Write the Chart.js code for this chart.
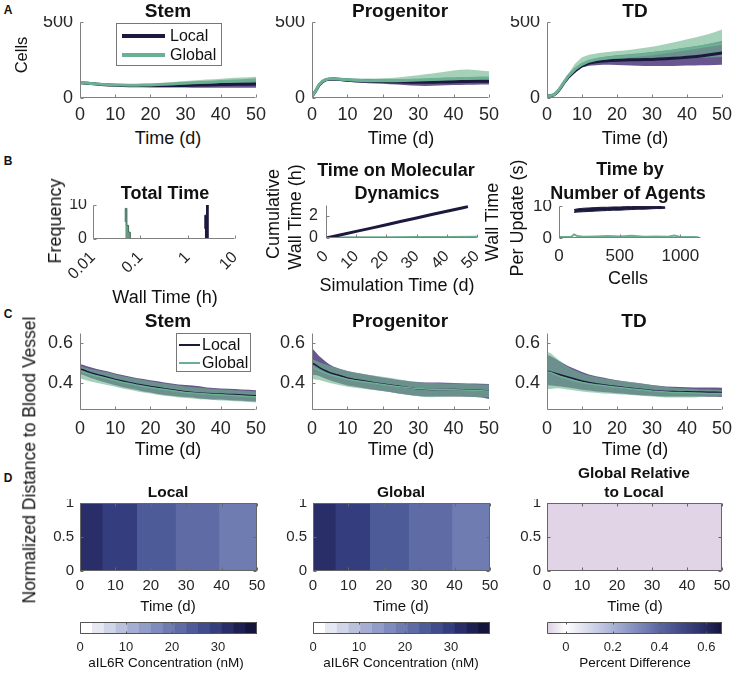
<!DOCTYPE html>
<html>
<head>
<meta charset="utf-8">
<script src="https://cdn.jsdelivr.net/npm/chart.js@4.4.0/dist/chart.umd.min.js"></script>
<style>
body { margin: 0; background: #fff; width: 733px; height: 673px; position: relative; overflow: hidden;
       font-family: "Liberation Sans", Arial, sans-serif; color: #111; }
canvas { position: absolute; }
.t { position: absolute; white-space: nowrap; line-height: 1; transform: translate(-50%, -50%); }
.box { position: absolute; border: 1px solid #777; background: #fff; }
.ln { position: absolute; }
</style>
</head>
<body>
<script>
// ---- data ----
const tA = [0,1,2,3,4,5,6,8,10,12,14,16,18,20,22,24,26,28,30,32,34,36,38,40,42,44,46,48,50];
const timeTicks = [0,10,20,30,40,50];

// A: cell counts
const stemLocalMean = [100,99,97,95,93,91,89,86,84,82,81,80,80,80,80,81,81,82,83,84,85,86,87,88,89,90,91,91,92];
const stemLocalLo   = [97,96,94,92,89,87,85,81,78,76,74,73,72,71,71,70,70,69,69,68,68,68,68,68,68,68,68,68,68];
const stemLocalHi   = [103,102,100,98,97,95,93,91,90,88,88,87,88,88,90,91,92,94,96,98,100,102,104,106,108,110,112,113,114];
const stemGlobalMean = [102,100,98,96,94,92,90,88,86,85,84,84,85,86,88,90,92,95,97,100,102,104,106,108,110,112,114,116,118];
const stemGlobalLo   = [98,96,94,92,90,88,86,83,80,78,77,77,77,77,78,79,80,81,82,83,84,85,86,87,87,88,88,89,90];
const stemGlobalHi   = [106,104,102,100,98,96,94,93,92,92,92,92,93,95,98,101,104,108,112,115,118,121,124,127,130,133,135,137,140];

const progLocalMean = [10,45,85,108,120,124,125,121,117,114,112,110,109,108,107,106,105,104,103,103,104,105,106,107,108,109,110,110,111];
const progLocalLo   = [10,40,77,100,112,116,116,112,107,103,100,97,95,93,91,89,86,83,80,79,81,83,84,85,86,87,87,88,88];
const progLocalHi   = [10,50,93,116,128,132,134,131,128,126,125,124,124,124,124,124,124,124,124,125,126,127,128,129,130,131,132,133,134];
const progGlobalMean = [10,47,88,111,122,126,127,124,120,117,115,114,113,113,113,114,115,116,118,120,122,124,126,127,128,129,130,131,132];
const progGlobalLo   = [10,42,80,103,114,118,118,115,111,107,105,103,101,100,99,99,99,99,100,101,102,103,104,105,106,107,108,108,108];
const progGlobalHi   = [10,52,96,119,130,134,136,134,131,129,128,128,129,130,132,135,139,144,150,156,162,168,175,181,186,188,185,180,176];

const tdLocalMean = [15,15,20,40,70,105,135,180,212,230,239,244,247,249,250,251,252,253,254,256,258,261,264,268,272,277,283,290,296];
const tdLocalLo   = [12,12,16,34,62,95,124,165,200,212,216,218,218,217,215,213,212,211,210,210,210,211,212,213,214,215,216,217,218];
const tdLocalHi   = [18,18,24,46,78,115,146,195,228,248,261,270,276,281,285,289,293,297,302,307,312,318,324,331,338,346,355,365,375];
const tdGlobalMean = [15,16,22,43,75,110,142,190,222,242,253,260,265,269,272,276,281,286,291,297,303,310,317,324,331,338,345,352,358];
const tdGlobalLo   = [12,13,18,37,66,100,131,175,205,222,232,238,241,243,244,245,246,248,250,252,254,256,258,260,262,264,266,268,270];
const tdGlobalHi   = [18,19,26,49,84,122,158,225,268,285,293,299,304,309,313,318,324,330,337,345,355,365,375,386,397,408,420,435,450];

// B: timing
const totalEdgesGlobal = [0.048,0.052,0.0565,0.0615,0.067];
const totalCountsGlobal = [5,9,4,2];
const totalEdgesLocal = [2.3,2.5,2.72,2.95];
const totalCountsLocal = [3,7,10];
const totalTicks = [0.01,0.1,1,10];

const mdTimeLocal = [0,5,10,15,20,25,30,35,40,45,47];
const mdWallLocal = [0,0.3,0.6,0.9,1.21,1.52,1.82,2.13,2.43,2.73,2.85];
const mdTimeGlobal = [0,10,20,30,40,50];
const mdWallGlobal = [0.01,0.02,0.03,0.04,0.05,0.06];

const agentCellsLocal = [125,150,200,250,300,350,400,450,500,550,600,650,700,750,800,850,875];
const agentWallLocalLo = [8.0,8.1,8.2,8.3,8.4,8.5,8.6,8.7,8.7,8.8,8.9,9.0,9.0,9.1,9.2,9.2,9.3];
const agentWallLocalHi = [8.9,9.1,9.3,9.4,9.5,9.6,9.6,9.7,9.7,9.8,9.8,9.9,9.9,9.9,9.9,9.8,9.7];
const agentCellsGlobal = [0,50,100,125,150,200,300,400,500,600,700,800,900,950,1000,1100,1150];
const agentWallGlobal = [0.3,0.3,0.4,1.1,0.6,0.4,0.5,0.6,0.5,0.7,0.4,0.5,0.4,0.8,0.3,0.3,0.2];
const agentTicks = [0,500,1000];

// C: normalized distance to blood vessel
const dStemLocalMean = [.470,.465,.458,.452,.447,.442,.437,.428,.418,.410,.402,.395,.389,.383,.377,.371,.366,.361,.356,.353,.350,.348,.346,.345,.343,.342,.340,.338,.336];
const dStemLocalLo   = [.445,.440,.432,.425,.420,.414,.409,.399,.389,.380,.372,.366,.358,.352,.345,.340,.336,.332,.330,.327,.322,.320,.318,.318,.315,.313,.311,.309,.307];
const dStemLocalHi   = [.495,.490,.484,.479,.474,.469,.465,.457,.447,.440,.432,.425,.420,.414,.409,.403,.398,.393,.390,.388,.384,.378,.375,.373,.371,.370,.368,.366,.364];
const dStemGlobalMean = [.462,.455,.448,.443,.438,.434,.430,.421,.412,.404,.397,.390,.384,.378,.372,.367,.362,.357,.353,.350,.347,.345,.343,.341,.339,.337,.335,.333,.331];
const dStemGlobalLo   = [.425,.418,.412,.408,.404,.400,.396,.389,.381,.373,.366,.359,.353,.347,.341,.336,.332,.328,.325,.322,.319,.317,.315,.313,.311,.309,.307,.305,.303];
const dStemGlobalHi   = [.485,.480,.475,.470,.466,.462,.459,.452,.443,.435,.428,.421,.415,.409,.403,.398,.392,.387,.383,.379,.376,.373,.370,.368,.366,.364,.362,.360,.358];

const dProgLocalMean = [.500,.490,.478,.468,.460,.452,.446,.436,.425,.418,.412,.406,.400,.395,.390,.385,.380,.375,.371,.369,.368,.368,.368,.367,.366,.365,.364,.362,.360];
const dProgLocalLo   = [.440,.440,.435,.427,.420,.414,.408,.398,.388,.382,.376,.370,.365,.360,.355,.349,.344,.339,.335,.333,.333,.333,.333,.333,.332,.331,.330,.328,.320];
const dProgLocalHi   = [.575,.555,.535,.520,.505,.492,.482,.470,.460,.452,.446,.440,.434,.428,.422,.416,.412,.408,.405,.403,.402,.402,.401,.400,.399,.398,.397,.396,.395];
const dProgGlobalMean = [.480,.472,.463,.455,.448,.442,.437,.428,.419,.413,.408,.403,.398,.393,.388,.383,.379,.375,.372,.370,.369,.368,.367,.366,.365,.364,.363,.361,.359];
const dProgGlobalLo   = [.420,.418,.415,.410,.405,.400,.396,.389,.381,.376,.372,.368,.364,.360,.355,.349,.344,.339,.334,.330,.329,.331,.332,.333,.332,.331,.330,.329,.328];
const dProgGlobalHi   = [.520,.512,.505,.498,.492,.486,.480,.470,.460,.453,.447,.441,.436,.431,.426,.420,.414,.408,.404,.401,.400,.399,.398,.397,.396,.395,.394,.393,.392];

const dTdLocalMean = [.460,.455,.450,.445,.440,.435,.430,.420,.410,.402,.396,.391,.386,.382,.378,.374,.370,.366,.363,.360,.358,.357,.356,.356,.355,.355,.354,.354,.353];
const dTdLocalLo   = [.390,.388,.386,.384,.382,.380,.378,.372,.366,.362,.358,.355,.352,.349,.346,.343,.340,.338,.336,.334,.333,.333,.332,.332,.332,.332,.331,.331,.330];
const dTdLocalHi   = [.540,.535,.525,.515,.505,.495,.485,.470,.455,.443,.434,.427,.420,.414,.409,.404,.400,.395,.390,.386,.383,.381,.380,.379,.378,.378,.377,.377,.376];
const dTdGlobalMean = [.455,.453,.445,.438,.430,.425,.420,.410,.402,.396,.391,.387,.383,.379,.375,.371,.368,.364,.360,.357,.355,.353,.352,.351,.350,.349,.348,.347,.347];
const dTdGlobalLo   = [.370,.370,.372,.374,.372,.370,.368,.363,.358,.354,.351,.348,.346,.344,.342,.340,.337,.335,.333,.330,.328,.328,.327,.327,.328,.330,.332,.333,.333];
const dTdGlobalHi   = [.555,.550,.535,.520,.505,.492,.480,.463,.448,.438,.430,.424,.418,.413,.409,.405,.400,.395,.390,.385,.380,.376,.374,.372,.370,.368,.367,.366,.365];

// D: aIL6R concentration per time window
const concEdges = [0,6.3,16.1,27,39.3,50];
const localConc  = [31.5,28.5,25.5,22.5,19];
const globalConc = [31.2,28.4,25.3,22.4,19.1];
const relEdges = [0,50];
const relDiff = [-0.07];
const concRange = [0,38.5];
const concTicks = [0,10,20,30];
const relRange = [-0.081,0.667];
const relTicks = [0,0.2,0.4,0.6];

// ---- styles ----
const LOCAL = '#1b1a3e', GLOBAL = '#6cb093';
const LOCAL_BAND = 'rgba(78,58,122,0.85)', GLOBAL_BAND = 'rgba(112,180,142,0.62)';
const concMap = ['#ffffff','#e6e8f2','#d0d5e8','#bac1dd','#a5aed2','#919cc7','#7f8bbd','#6f7cb2',
                 '#5e6ba5','#4e5b99','#414c8c','#343d7d','#292e69','#1e2052','#15143a'];
const relStops = [[-0.081,'#dccde3'],[0,'#ffffff'],[0.2,'#aab3d6'],[0.4,'#5a66a2'],[0.6,'#262a62'],[0.667,'#14133a']];

Chart.defaults.font.family = '"Liberation Sans", Arial, sans-serif';
Chart.defaults.color = '#262626';

const R = {
  aStem: {x:80, y:22, w:176, h:76}, aProg: {x:312, y:22, w:177, h:76}, aTD: {x:547, y:22, w:175, h:76},
  bTot: {x:93, y:205, w:142, h:34}, bMD: {x:326, y:205, w:151, h:33}, bAg: {x:559, y:206, w:142, h:32},
  cStem: {x:80, y:333, w:176, h:77}, cProg: {x:312, y:333, w:177, h:77}, cTD: {x:547, y:333, w:175, h:77},
  dLoc: {x:80, y:503, w:177, h:68}, dGlob: {x:313, y:503, w:177, h:68}, dRel: {x:547, y:503, w:175, h:68},
  cbLoc: {x:80, y:622, w:177, h:12}, cbGlob: {x:313, y:622, w:177, h:12}, cbRel: {x:547, y:622, w:175, h:12}
};

// MATLAB-like axes: inward ticks, axis lines, optional box
Chart.register({
  id: 'matAxes',
  afterDatasetsDraw(chart, args, o) {
    const ctx = chart.ctx, a = chart.chartArea, L = o.len || 3;
    const sx = chart.scales.x, sy = chart.scales.y;
    const l = Math.round(a.left) + 0.5, b = Math.round(a.bottom) - 0.5;
    const r = Math.round(a.right) - 0.5, t = Math.round(a.top) + 0.5;
    ctx.save();
    ctx.strokeStyle = o.color || '#808080';
    ctx.lineWidth = 1;
    ctx.beginPath();
    sx.ticks.forEach(k => {
      const p = Math.round(sx.getPixelForValue(k.value)) + 0.5;
      ctx.moveTo(p, b); ctx.lineTo(p, b - L);
      if (o.box) { ctx.moveTo(p, t); ctx.lineTo(p, t + L); }
    });
    if (sy.options.display !== false) sy.ticks.forEach(k => {
      const p = Math.round(sy.getPixelForValue(k.value)) + 0.5;
      ctx.moveTo(l, p); ctx.lineTo(l + L, p);
      if (o.box) { ctx.moveTo(r, p); ctx.lineTo(r - L, p); }
    });
    ctx.moveTo(l, t); ctx.lineTo(l, b); ctx.lineTo(r, b);
    if (o.box) { ctx.lineTo(r, t); ctx.lineTo(l, t); }
    ctx.stroke();
    ctx.restore();
  }
});

function pts(xs, ys) { return xs.map((x, i) => ({x: x, y: ys[i]})); }
function fixTicks(vals) { return s => { s.ticks = vals.map(v => ({value: v})); }; }

function panel(rect, m, xs, ys, datasets, axes) {
  const c = document.createElement('canvas');
  const W = Math.round(rect.w + m.l + m.r), H = Math.round(rect.h + m.t + m.b);
  c.width = W; c.height = H;
  c.style.left = (rect.x - m.l) + 'px';
  c.style.top = (rect.y - m.t) + 'px';
  document.body.appendChild(c);
  xs.grid = {display: false, drawTicks: false}; xs.border = {display: false};
  ys.grid = {display: false, drawTicks: false}; ys.border = {display: false};
  xs.afterFit = s => { s.height = m.b; s.paddingLeft = 0; s.paddingRight = 0; };
  if (ys.display !== false) ys.afterFit = s => { s.width = m.l; s.paddingTop = 0; s.paddingBottom = 0; };
  return new Chart(c, {
    type: 'line',
    data: {datasets: datasets},
    options: {
      responsive: false, animation: false, devicePixelRatio: 1,
      layout: {padding: {left: ys.display === false ? m.l : 0, top: m.t, right: m.r, bottom: 0}},
      scales: {x: xs, y: ys},
      elements: {point: {radius: 0}, line: {tension: 0}},
      plugins: {legend: {display: false}, tooltip: {enabled: false}, matAxes: axes || {}}
    }
  });
}

function linAxis(min, max, ticks, size, pad, rot) {
  return {type: 'linear', min: min, max: max, afterBuildTicks: fixTicks(ticks),
    ticks: {font: {size: size}, padding: pad, maxRotation: rot || 0, minRotation: rot || 0, callback: v => String(v)}};
}

function bandPanel(rect, yMin, yMax, yTicks, s, lw, xPad) {
  return panel(rect, {l: 60, r: 24, t: 6, b: 30},
    linAxis(0, 50, timeTicks, 18, xPad),
    linAxis(yMin, yMax, yTicks, 18, 7),
    [
      {data: pts(tA, s[1]), borderWidth: 0, fill: false, order: 4},
      {data: pts(tA, s[2]), borderWidth: 0, fill: '-1', backgroundColor: LOCAL_BAND, order: 4},
      {data: pts(tA, s[4]), borderWidth: 0, fill: false, order: 3},
      {data: pts(tA, s[5]), borderWidth: 0, fill: '-1', backgroundColor: GLOBAL_BAND, order: 3},
      {data: pts(tA, s[0]), borderColor: LOCAL, borderWidth: lw, fill: false, order: 2},
      {data: pts(tA, s[3]), borderColor: GLOBAL, borderWidth: lw, fill: false, order: 1}
    ]);
}

function hexRgb(h) { return [1, 3, 5].map(i => parseInt(h.substr(i, 2), 16)); }
function relColor(v) {
  for (let i = 0; i < relStops.length - 1; i++) {
    const [a, ca] = relStops[i], [b, cb] = relStops[i + 1];
    if (v <= b || i === relStops.length - 2) {
      const f = Math.max(0, Math.min(1, (v - a) / (b - a)));
      const A = hexRgb(ca), B = hexRgb(cb);
      return 'rgb(' + A.map((x, j) => Math.round(x + (B[j] - x) * f)).join(',') + ')';
    }
  }
}
function concColor(v) {
  const f = (v - concRange[0]) / (concRange[1] - concRange[0]);
  return concMap[Math.max(0, Math.min(concMap.length - 1, Math.floor(f * concMap.length)))];
}
// each block is filled from its start edge to the last edge; later blocks are drawn on top,
// so neighbouring cells meet without antialiasing seams
function blocks(edges, colors) {
  const end = edges[edges.length - 1];
  return colors.map((col, i) => ({
    data: [{x: edges[i], y: 1}, {x: end, y: 1}],
    borderWidth: 0, fill: 'origin', backgroundColor: col, order: colors.length - i
  }));
}

// ---- row A ----
bandPanel(R.aStem, 0, 500, [0, 500], [stemLocalMean, stemLocalLo, stemLocalHi, stemGlobalMean, stemGlobalLo, stemGlobalHi], 3, 6);
bandPanel(R.aProg, 0, 500, [0, 500], [progLocalMean, progLocalLo, progLocalHi, progGlobalMean, progGlobalLo, progGlobalHi], 3, 6);
bandPanel(R.aTD, 0, 500, [0, 500], [tdLocalMean, tdLocalLo, tdLocalHi, tdGlobalMean, tdGlobalLo, tdGlobalHi], 3, 6);

// ---- row B ----
panel(R.bTot, {l: 40, r: 20, t: 6, b: 44},
  {type: 'logarithmic', min: 0.01, max: 10, afterBuildTicks: fixTicks(totalTicks),
   ticks: {font: {size: 16}, padding: 9, minRotation: 45, maxRotation: 45, callback: v => String(v)}},
  linAxis(0, 10, [0, 5, 10], 16, 6),
  [
    {data: pts(totalEdgesGlobal, totalCountsGlobal.concat([0])), stepped: 'after', fill: 'origin',
     backgroundColor: 'rgba(92,150,122,0.95)', borderColor: '#3e6a57', borderWidth: 1},
    {data: pts(totalEdgesLocal, totalCountsLocal.concat([0])), stepped: 'after', fill: 'origin',
     backgroundColor: LOCAL, borderColor: LOCAL, borderWidth: 1}
  ]);

panel(R.bMD, {l: 24, r: 20, t: 6, b: 44},
  linAxis(0, 50, timeTicks, 16, 9, 45),
  linAxis(0, 3, [0, 2], 16, 8),
  [
    {data: pts(mdTimeLocal, mdWallLocal), borderColor: LOCAL, borderWidth: 3, fill: false},
    {data: pts(mdTimeGlobal, mdWallGlobal), borderColor: GLOBAL, borderWidth: 3, fill: false}
  ]);

panel(R.bAg, {l: 30, r: 24, t: 6, b: 30},
  linAxis(0, 1170, agentTicks, 17, 8),
  linAxis(0, 10, [0, 5, 10], 17, 7),
  [
    {data: pts(agentCellsLocal, agentWallLocalLo), borderColor: LOCAL, borderWidth: 1, fill: false},
    {data: pts(agentCellsLocal, agentWallLocalHi), borderColor: LOCAL, borderWidth: 1, fill: '-1', backgroundColor: LOCAL},
    {data: pts(agentCellsGlobal, agentWallGlobal), borderColor: GLOBAL, borderWidth: 2, fill: false}
  ]);

// ---- row C ----
bandPanel(R.cStem, 0.265, 0.65, [0.4, 0.6], [dStemLocalMean, dStemLocalLo, dStemLocalHi, dStemGlobalMean, dStemGlobalLo, dStemGlobalHi], 1.5, 8);
bandPanel(R.cProg, 0.265, 0.65, [0.4, 0.6], [dProgLocalMean, dProgLocalLo, dProgLocalHi, dProgGlobalMean, dProgGlobalLo, dProgGlobalHi], 1.5, 8);
bandPanel(R.cTD, 0.265, 0.65, [0.4, 0.6], [dTdLocalMean, dTdLocalLo, dTdLocalHi, dTdGlobalMean, dTdGlobalLo, dTdGlobalHi], 1.5, 8);

// ---- row D ----
const heatM = {l: 60, r: 24, t: 4, b: 26};
panel(R.dLoc, heatM, linAxis(0, 50, timeTicks, 15, 6), linAxis(0, 1, [0, 0.5, 1], 15, 6),
  blocks(concEdges, localConc.map(concColor)), {box: true, color: '#666'});
panel(R.dGlob, heatM, linAxis(0, 50, timeTicks, 15, 6), linAxis(0, 1, [0, 0.5, 1], 15, 6),
  blocks(concEdges, globalConc.map(concColor)), {box: true, color: '#666'});
panel(R.dRel, heatM, linAxis(0, 50, timeTicks, 15, 6), linAxis(0, 1, [0, 0.5, 1], 15, 6),
  blocks(relEdges, relDiff.map(relColor)), {box: true, color: '#666'});

// colorbars
const cbM = {l: 10, r: 14, t: 2, b: 22};
const concSteps = concMap.map((c, i) => concRange[0] + i * (concRange[1] - concRange[0]) / concMap.length).concat([concRange[1]]);
[R.cbLoc, R.cbGlob].forEach(r => {
  panel(r, cbM, linAxis(concRange[0], concRange[1], concTicks, 13, 6), {type: 'linear', min: 0, max: 1, display: false},
    blocks(concSteps, concMap), {box: true, color: '#555', len: 2});
});
panel(R.cbRel, cbM, linAxis(relRange[0], relRange[1], relTicks, 13, 6), {type: 'linear', min: 0, max: 1, display: false},
  [{data: [{x: relRange[0], y: 1}, {x: relRange[1], y: 1}], borderWidth: 0, fill: 'origin',
    backgroundColor: ctx => {
      const ch = ctx.chart, sx = ch.scales.x;
      if (!ch.chartArea || !sx) return '#ddd';
      const x0 = sx.getPixelForValue(relRange[0]), x1 = sx.getPixelForValue(relRange[1]);
      const g = ch.ctx.createLinearGradient(x0, 0, x1, 0);
      relStops.forEach(([v, c]) => g.addColorStop((v - relRange[0]) / (relRange[1] - relRange[0]), c));
      return g;
    }}],
  {box: true, color: '#555', len: 2});

// ---- text ----
function txt(s, x, y, size, opt) {
  opt = opt || {};
  const d = document.createElement('div');
  d.className = 't';
  d.textContent = s;
  d.style.left = x + 'px'; d.style.top = y + 'px';
  d.style.fontSize = size + 'px';
  if (opt.bold) d.style.fontWeight = 'bold';
  if (opt.rot) d.style.transform = 'translate(-50%,-50%) rotate(-90deg)';
  if (opt.left) d.style.transform = 'translate(0,-50%)';
  document.body.appendChild(d);
}
function legend(x, y, w, h, items, lineX0, lineX1, textX, lw, size) {
  const b = document.createElement('div');
  b.className = 'box';
  b.style.left = x + 'px'; b.style.top = y + 'px';
  b.style.width = (w - 2) + 'px'; b.style.height = (h - 2) + 'px';
  document.body.appendChild(b);
  items.forEach(([name, col, cy]) => {
    const l = document.createElement('div');
    l.className = 'ln';
    l.style.left = lineX0 + 'px'; l.style.width = (lineX1 - lineX0) + 'px';
    l.style.top = (cy - lw / 2) + 'px'; l.style.height = lw + 'px';
    l.style.background = col;
    document.body.appendChild(l);
    txt(name, textX, cy, size, {left: true});
  });
}

txt('A', 8, 10, 12, {bold: true});
txt('B', 8, 161, 12, {bold: true});
txt('C', 8, 314, 12, {bold: true});
txt('D', 8, 478, 12, {bold: true});

// row A
txt('Stem', 168, 10, 19, {bold: true});
txt('Progenitor', 400, 10, 19, {bold: true});
txt('TD', 635, 10, 19, {bold: true});
txt('Cells', 21, 55, 16.5, {rot: true});
txt('Time (d)', 168, 138, 18);
txt('Time (d)', 401, 138, 18);
txt('Time (d)', 635, 138, 18);
legend(116, 23, 106, 43, [['Local', LOCAL, 36], ['Global', GLOBAL, 55]], 122, 165, 170, 4, 16);

// row B
txt('Total Time', 165, 193, 18, {bold: true});
txt('Frequency', 55, 221, 18, {rot: true});
txt('Wall Time (h)', 165, 297, 18);
txt('Time on Molecular', 396, 170, 18, {bold: true});
txt('Dynamics', 397, 193, 18, {bold: true});
txt('Cumulative', 273, 214, 18, {rot: true});
txt('Wall Time (h)', 295, 217, 18, {rot: true});
txt('Simulation Time (d)', 397, 285, 18);
txt('Time by', 630, 169, 18, {bold: true});
txt('Number of Agents', 628, 193, 18, {bold: true});
txt('Wall Time', 492, 222, 18, {rot: true});
txt('Per Update (s)', 517, 218, 18, {rot: true});
txt('Cells', 628, 278, 18);

// row C
txt('Stem', 168, 320, 19, {bold: true});
txt('Progenitor', 400, 320, 19, {bold: true});
txt('TD', 634, 320, 19, {bold: true});
txt('Time (d)', 168, 449, 18);
txt('Time (d)', 401, 449, 18);
txt('Time (d)', 635, 449, 18);
txt('Normalized Distance to Blood Vessel', 30, 460, 17.5, {rot: true});
legend(176, 333, 75, 39, [['Local', LOCAL, 345], ['Global', GLOBAL, 363]], 179, 200, 202, 2, 16);

// row D
txt('Local', 168, 492, 15.5, {bold: true});
txt('Global', 401, 492, 15.5, {bold: true});
txt('Global Relative', 634, 473, 15.5, {bold: true});
txt('to Local', 634, 492, 15.5, {bold: true});
txt('Time (d)', 168, 605, 15);
txt('Time (d)', 401, 605, 15);
txt('Time (d)', 635, 605, 15);
txt('aIL6R Concentration (nM)', 166, 663, 13.5);
txt('aIL6R Concentration (nM)', 401, 663, 13.5);
txt('Percent Difference', 635, 663, 13.5);
</script>
</body>
</html>
